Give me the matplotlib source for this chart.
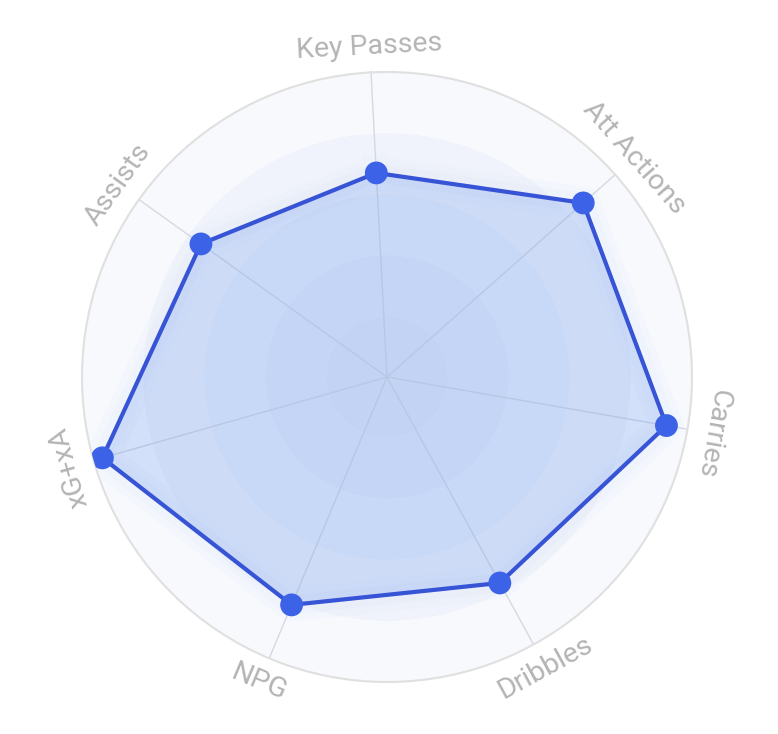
import numpy as np
import matplotlib
matplotlib.use("Agg")
import matplotlib.pyplot as plt

# ======================= Data ==========================
categories = ["Key Passes", "Att Actions", "Carries", "Dribbles", "NPG", "xG+xA", "Assists"]
values = [67, 86, 93, 77, 81, 97, 75]
r_max = 100
ring_edges = [0, 20, 40, 60, 80, 100]
ring_colors = ["#e2e8f7", "#e5ebf8", "#eaeffa", "#f0f3fb", "#f7f9fd"]

line_color = "#3753d6"
dot_color = "#3c62e8"
fill_color = "#5b8eee"
label_color = "#b4b4b4"

# ======================= Figure ==========================
W, H = 778, 734
fig = plt.figure(figsize=(W / 100, H / 100), dpi=100)
fig.patch.set_facecolor("white")

cx, cy, R = 387, 377, 305
ax = fig.add_axes([(cx - R) / W, (H - cy - R) / H, 2 * R / W, 2 * R / H], projection="polar")
ax.set_facecolor("none")
ax.set_theta_direction(-1)
tilt = np.deg2rad(3)
ax.set_theta_offset(np.pi / 2 + tilt)
ax.set_ylim(0, r_max)
ax.grid(False)
ax.set_xticks([])
ax.set_yticks([])
ax.spines["polar"].set_color("#e0e0e0")
ax.spines["polar"].set_linewidth(1.5)

n = len(categories)
angles = np.arange(n) * 2 * np.pi / n

# background rings
for i in range(len(ring_colors)):
    ax.bar(0, ring_edges[i + 1] - ring_edges[i], width=2 * np.pi, bottom=ring_edges[i],
           color=ring_colors[i], edgecolor="none", align="edge", zorder=0)

# axis lines
for a in angles:
    ax.plot([a, a], [0, r_max], color="#d5d9e1", linewidth=1.0, zorder=1)

# soft glow around the polygon
th = np.append(angles, angles[0])
vals = np.append(values, values[0])
for lw, al in [(24, 0.02), (14, 0.025)]:
    ax.plot(th, vals, color=fill_color, linewidth=lw, alpha=al, zorder=2,
            solid_joinstyle="round")

ax.fill(th, vals, color=fill_color, alpha=0.23, zorder=3, linewidth=0)
ax.plot(th, vals, color=line_color, linewidth=3, zorder=4)
ax.scatter(angles, values, s=270, color=dot_color, zorder=5, edgecolors="none")

# labels, tangent to the circle
for a, lab in zip(angles, categories):
    screen = 90 - np.rad2deg(a) + 3
    rot = (screen - 90 + 180) % 360 - 180
    if abs(rot) > 135:
        rot = rot + 180 if rot < 0 else rot - 180
    ax.text(a, 108.5, lab, rotation=rot, rotation_mode="anchor", ha="center", va="center",
            fontsize=20.5, color=label_color,
            family=["Roboto", "DejaVu Sans"], zorder=6)

fig.savefig("out.png", dpi=100, facecolor="white")
